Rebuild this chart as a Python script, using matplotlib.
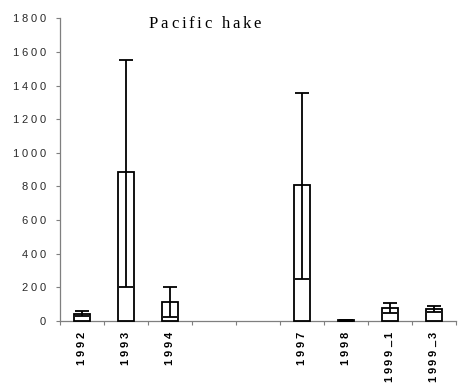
import numpy as np
import matplotlib
matplotlib.use("Agg")
import matplotlib.pyplot as plt
from matplotlib.font_manager import FontProperties, findfont, get_font
from matplotlib.transforms import IdentityTransform

# Survey catch of Pacific hake: mean with lower / upper confidence limits
categories = ["1992", "1993", "1994", "1995", "1996", "1997", "1998", "1999_1", "1999_3"]
mean_catch = [38, 883, 111, np.nan, np.nan, 808, 2, 74, 70]
lower_ci = [26, 200, 22, np.nan, np.nan, 246, 1, 44, 50]
upper_ci = [56, 1552, 200, np.nan, np.nan, 1353, 3, 104, 88]
y_ticks = [0, 200, 400, 600, 800, 1000, 1200, 1400, 1600, 1800]
title = "Pacific hake"

DPI = 100
W, H = 458, 391
fig = plt.figure(figsize=(W / DPI, H / DPI), dpi=DPI)
fig.patch.set_facecolor("white")
ax = fig.add_axes([60 / W, 70.3 / H, 396 / W, 302.4 / H])
ax.patch.set_alpha(0)

x = np.arange(len(categories))
mean = np.array(mean_catch, dtype=float)
lo = np.array(lower_ci, dtype=float)
hi = np.array(upper_ci, dtype=float)
has = ~np.isnan(mean)

ax.bar(x[has], mean[has], width=0.38, color="white", edgecolor="black",
       linewidth=1.3, zorder=3, clip_on=False)
ax.errorbar(x[has], mean[has], yerr=[mean[has] - lo[has], hi[has] - mean[has]],
            fmt="none", ecolor="black", elinewidth=1.3, capsize=5.2,
            capthick=1.3, zorder=4, clip_on=False)

ax.set_xlim(-0.5, len(categories) - 0.5)
ax.set_ylim(0, 1800)
ax.set_xticks(np.arange(-0.5, len(categories), 1.0))
ax.set_yticks(y_ticks)
ax.set_xticklabels([])
ax.set_yticklabels([])
for side in ("top", "right"):
    ax.spines[side].set_visible(False)
for side in ("left", "bottom"):
    ax.spines[side].set_color("#7f7f7f")
    ax.spines[side].set_linewidth(0.9)
ax.tick_params(direction="out", length=3.2, width=0.8, color="#7f7f7f")


def advances(text, prop):
    font = get_font(findfont(prop))
    font.set_size(prop.get_size_in_points(), DPI)
    out = []
    for ch in text:
        g = font.load_char(ord(ch))
        out.append(g.linearHoriAdvance / 65536)
    return out


def tracked_text(x0, y0, text, prop, track, align="left", rotation=0, color="black"):
    """Draw text letter by letter along its baseline with extra spacing (pixels)."""
    adv = advances(text, prop)
    total = sum(adv) + track * (len(text) - 1)
    pos = {"left": 0.0, "center": -total / 2, "right": -total}[align]
    ang = np.deg2rad(rotation)
    dx, dy = np.cos(ang), np.sin(ang)
    for ch, a in zip(text, adv):
        if ch != " ":
            fig.text(x0 + pos * dx, y0 + pos * dy, ch, transform=IdentityTransform(),
                     fontproperties=prop, rotation=rotation, rotation_mode="anchor",
                     ha="left", va="baseline", color=color)
        pos += a + track
    return total


# Title
title_prop = FontProperties(family="Liberation Serif", size=12)
tracked_text(205, H - 28.3, title, title_prop, 2.8, align="center")

# Y tick labels
ylab_prop = FontProperties(family="Liberation Sans", size=8)
for v in y_ticks:
    px, py = ax.transData.transform((-0.5, v))
    tracked_text(46, py - 4.0, str(v), ylab_prop, 3.0, align="right", color="#2a2a2a")

# X category labels (rotated, reading upward, top-aligned under the axis)
xlab_prop = FontProperties(family="Liberation Sans", size=8, weight="bold")
x_track = 2.6
for i, cat in enumerate(categories):
    if not has[i]:
        continue
    px, py = ax.transData.transform((i, 0))
    adv = advances(cat, xlab_prop)
    total = sum(adv) + x_track * (len(cat) - 1)
    top = H - 332
    tracked_text(px + 2.5, top - total, cat, xlab_prop, x_track, align="left", rotation=90)

fig.savefig("out.png", dpi=DPI, facecolor="white")
